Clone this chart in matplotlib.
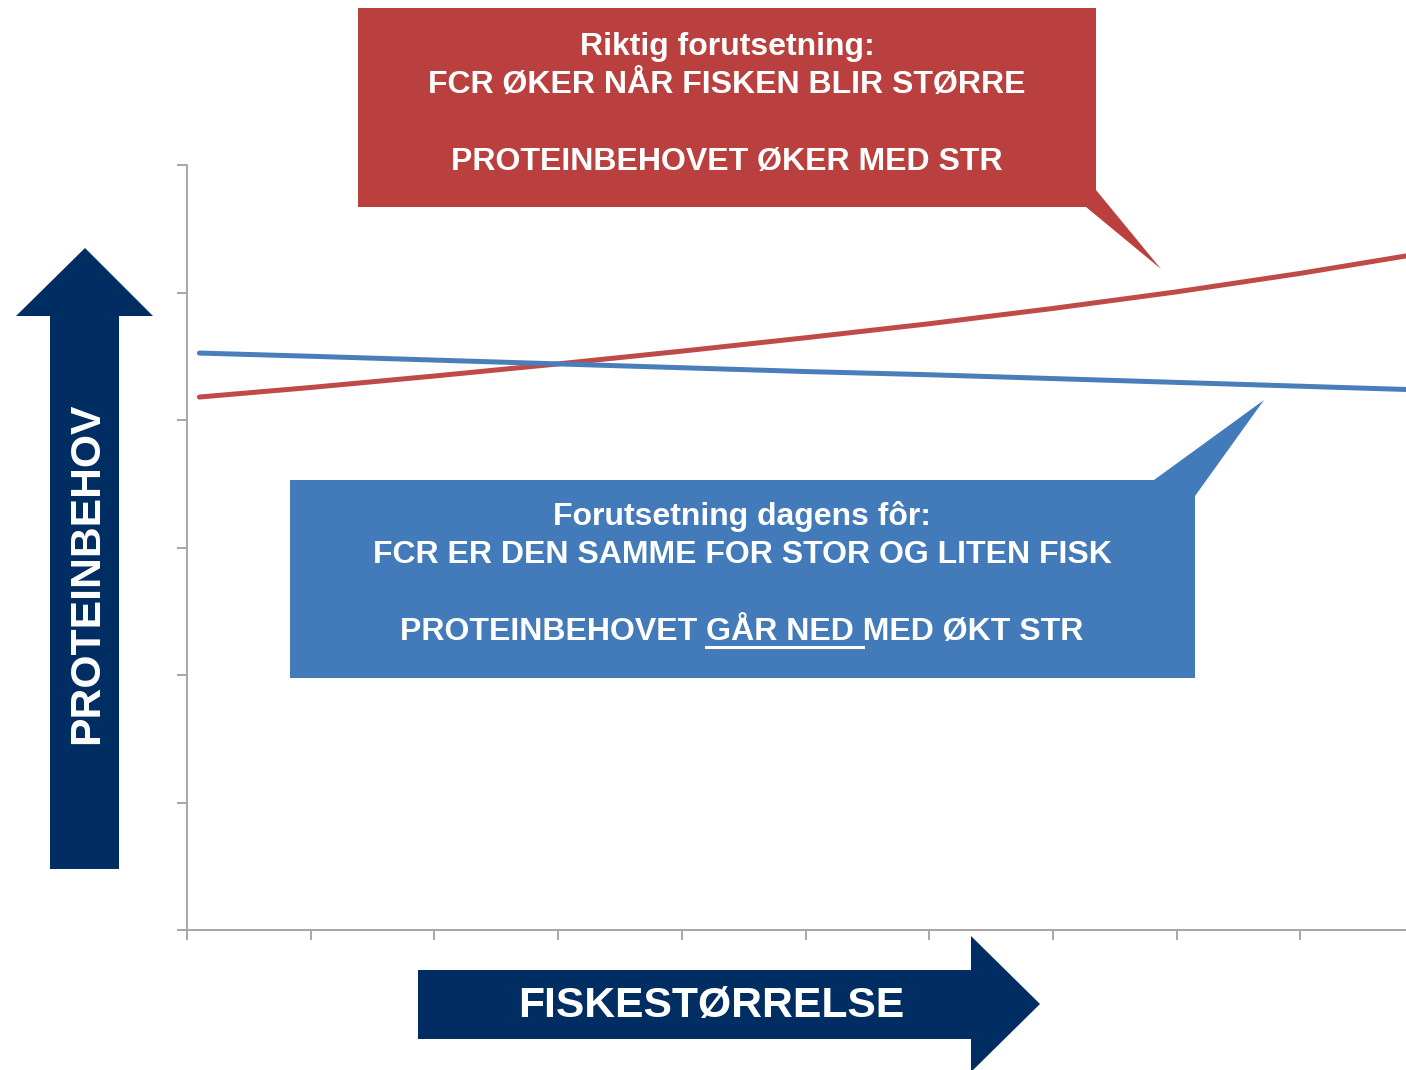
import matplotlib
matplotlib.use("Agg")
import matplotlib.pyplot as plt
from matplotlib.patches import Polygon
from matplotlib.transforms import Affine2D
from matplotlib.lines import Line2D
from matplotlib.font_manager import FontProperties

# ---------------- data ----------------
size_x = [0.1, 1, 2, 3, 4, 5, 6, 7, 8, 9, 10]
protein_correct = [4.18, 4.255, 4.345, 4.44, 4.54, 4.645, 4.755, 4.875, 5.005, 5.15, 5.31]
protein_today = [4.525, 4.50, 4.47, 4.44, 4.41, 4.38, 4.355, 4.325, 4.295, 4.265, 4.235]
x_ticks = list(range(0, 11))
y_ticks = list(range(0, 7))

red_lines = ["Riktig forutsetning:", "FCR ØKER NÅR FISKEN BLIR STØRRE", "",
             "PROTEINBEHOVET ØKER MED STR"]
blue_lines = ["Forutsetning dagens fôr:", "FCR ER DEN SAMME FOR STOR OG LITEN FISK", "",
              "PROTEINBEHOVET GÅR NED MED ØKT STR"]
ylabel_text = "PROTEINBEHOV"
xlabel_text = "FISKESTØRRELSE"

# ---------------- styles ----------------
W, H = 1406, 1070
RED_LINE = "#BE4B48"
BLUE_LINE = "#4A7EBB"
RED_BOX = "#B9403E"
BLUE_BOX = "#437AB9"
NAVY = "#002D62"
GRAY = "#A6A6A6"
FONT = "Liberation Sans"

fig = plt.figure(figsize=(W / 100, H / 100), dpi=100)
px = Affine2D().scale(1 / W, -1 / H).translate(0, 1) + fig.transFigure

ax = fig.add_axes([187 / W, 140 / H, (1424 - 187) / W, 765 / H])
ax.plot(size_x, protein_correct, color=RED_LINE, lw=3.6, solid_capstyle="round", clip_on=False)
ax.plot(size_x, protein_today, color=BLUE_LINE, lw=3.6, solid_capstyle="round", clip_on=False)
ax.set_xlim(0, 10)
ax.set_ylim(0, 6)
ax.set_xticks(x_ticks)
ax.set_yticks(y_ticks)
ax.set_xticklabels([])
ax.set_yticklabels([])
for s in ("top", "right"):
    ax.spines[s].set_visible(False)
for s in ("left", "bottom"):
    ax.spines[s].set_color(GRAY)
    ax.spines[s].set_linewidth(1.4)
ax.tick_params(direction="out", length=7.5, width=1.4, color=GRAY)

# ---------------- shapes ----------------
red_callout = [(358, 8), (1096, 8), (1096, 190), (1161, 269), (1086, 207), (358, 207)]
blue_callout = [(290, 480), (1154, 480), (1264, 400), (1195, 496), (1195, 678), (290, 678)]
up_arrow = [(50, 869), (119, 869), (119, 316), (153, 316), (85, 248), (16, 316), (50, 316)]
right_arrow = [(418, 970), (971, 970), (971, 936), (1040, 1004), (971, 1072), (971, 1039), (418, 1039)]
for poly, col in [(red_callout, RED_BOX), (blue_callout, BLUE_BOX), (up_arrow, NAVY), (right_arrow, NAVY)]:
    fig.add_artist(Polygon(poly, closed=True, facecolor=col, edgecolor="none",
                           transform=px, zorder=5))

# ---------------- texts ----------------
fs_box = 23
red_y = [47, 85, 123, 162]
for t, y in zip(red_lines, red_y):
    if t:
        fig.text(727, y, t, transform=px, ha="center", va="center", color="white",
                 fontsize=fs_box, fontweight="bold", family=FONT, zorder=6)
blue_y = [517, 555, 593, 632]
for t, y in zip(blue_lines, blue_y):
    if t:
        fig.text(742, y, t, transform=px, ha="center", va="center", color="white",
                 fontsize=fs_box, fontweight="bold", family=FONT, zorder=6)

fig.text(87, 573, ylabel_text, transform=px, ha="center", va="center", rotation=90,
         color="white", fontsize=30.7, fontweight="bold", family=FONT, zorder=6)
fig.text(711, 1006, xlabel_text, transform=px, ha="center", va="center",
         color="white", fontsize=30.7, fontweight="bold", family=FONT, zorder=6)

# underline "GÅR NED "
fig.canvas.draw()
r = fig.canvas.get_renderer()
prop = FontProperties(family=FONT, weight="bold", size=fs_box)
def tw(s):
    return r.get_text_width_height_descent(s, prop, ismath=False)[0]
sp = tw("I I") - tw("II")
full = tw(blue_lines[3])
left = 742 - full / 2
x0 = left + tw("PROTEINBEHOVET") + sp
x1 = x0 + tw("GÅR NED") + sp
fig.add_artist(Line2D([x0, x1], [647, 647], color="white", lw=2.2, transform=px, zorder=6))

fig.savefig("out.png", dpi=100)
